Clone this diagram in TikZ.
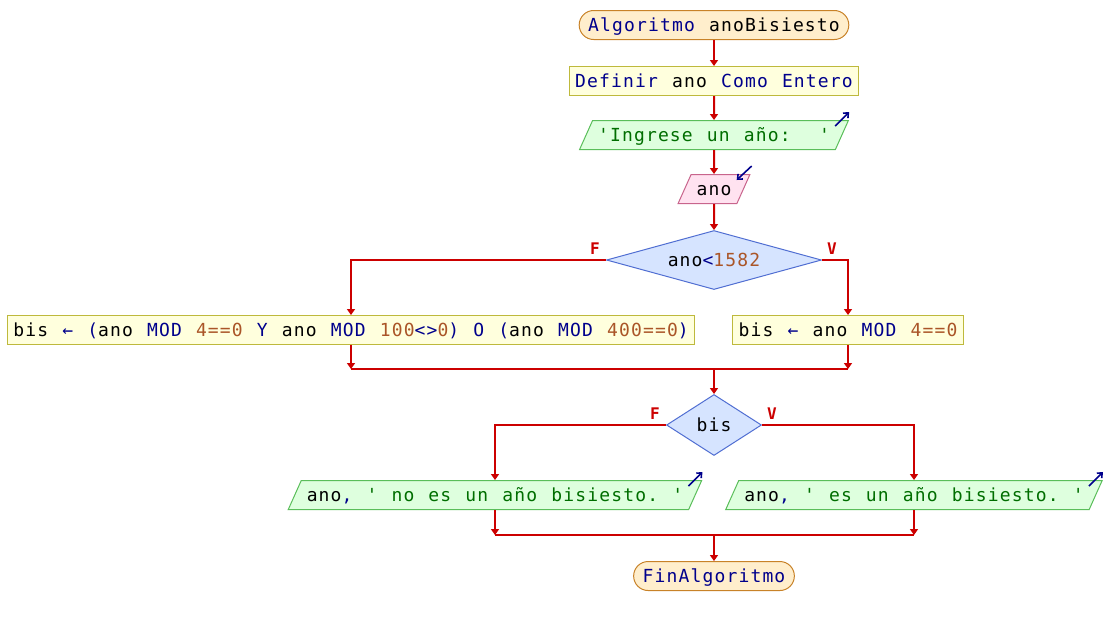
\documentclass[tikz,border=0pt]{standalone}
\usepackage{fontspec}
\setmonofont{DejaVu Sans Mono}[LetterSpace=6.4,WordSpace=1.18]
\usetikzlibrary{shapes.geometric,positioning,arrows.meta}

\definecolor{flowred}{RGB}{204,0,0}
\definecolor{kwblue}{RGB}{0,0,140}
\definecolor{numbrown}{RGB}{170,85,40}
\definecolor{strgreen}{RGB}{0,110,0}
\definecolor{termfill}{RGB}{255,238,204}
\definecolor{termdraw}{RGB}{200,130,40}
\definecolor{procfill}{RGB}{255,255,221}
\definecolor{procdraw}{RGB}{190,185,60}
\definecolor{outfill}{RGB}{222,255,222}
\definecolor{outdraw}{RGB}{90,190,90}
\definecolor{infill}{RGB}{255,226,240}
\definecolor{indraw}{RGB}{200,100,140}
\definecolor{decfill}{RGB}{214,228,255}
\definecolor{decdraw}{RGB}{80,110,210}

\newcommand{\pkw}[1]{\textcolor{kwblue}{#1}}
\newcommand{\pnum}[1]{\textcolor{numbrown}{#1}}
\newcommand{\pstr}[1]{\textcolor{strgreen}{#1}}

\begin{document}
\begin{tikzpicture}[x=1pt,y=1pt,node distance=24pt,
  font=\ttfamily\fontsize{18}{20}\selectfont,
  base/.style={inner ysep=7.25pt,text height=14pt,text depth=0.5pt,line width=1pt},
  terminal/.style={base,rectangle,rounded corners=14.5pt,fill=termfill,draw=termdraw,inner xsep=9pt},
  proc/.style={base,rectangle,fill=procfill,draw=procdraw,inner xsep=6pt},
  outbox/.style={base,trapezium,trapezium left angle=65.85,trapezium right angle=114.15,
    fill=outfill,draw=outdraw,inner xsep=5.5pt},
  inbox/.style={outbox,fill=infill,draw=indraw},
  decision/.style={diamond,fill=decfill,draw=decdraw,line width=1pt,inner sep=0pt},
  flow/.style={draw=flowred,line width=2pt,-{Triangle[width=8pt,length=6pt]}},
  flowline/.style={draw=flowred,line width=2pt},
  branch/.style={text=flowred,font=\ttfamily\bfseries\fontsize{16}{16}\selectfont,inner sep=0pt},
  iomark/.style={draw=kwblue,line width=1.6pt,-{Straight Barb[length=4pt,width=7pt]}}]

  \useasboundingbox (0,0) rectangle (1104,-625);

  % main column
  \node[terminal] (start) at (714,-25) {\pkw{Algoritmo} anoBisiesto};
  \node[proc, below=26pt of start] (defn) {\pkw{Definir} ano \pkw{Como Entero}};
  \node[outbox, below=of defn] (ask) {\pstr{'Ingrese un año:\ \ '}};
  \node[inbox, below=of ask] (readano) {ano};
  \node[decision, below=26pt of readano, aspect=3.64, minimum width=215pt, minimum height=59pt] (cmp)
    {ano\pkw{<}\pnum{1582}};

  % both rules
  \node[proc, below=25pt of cmp, xshift=-363pt] (oldrule)
    {bis \pkw{←} \pkw{(}ano \pkw{MOD} \pnum{4==0} \pkw{Y} ano \pkw{MOD} \pnum{100}\pkw{<>}\pnum{0}\pkw{)} \pkw{O} \pkw{(}ano \pkw{MOD} \pnum{400==0}\pkw{)}};
  \node[proc, below=25pt of cmp, xshift=134pt] (gregrule)
    {bis \pkw{←} ano \pkw{MOD} \pnum{4==0}};

  \coordinate[below=of oldrule.south] (joinL);
  \coordinate (joinR) at (gregrule.south |- joinL);
  \coordinate (join1) at (cmp.south |- joinL);

  \node[decision, below=25pt of join1, aspect=1.58, minimum width=95pt, minimum height=61pt] (isbis) {bis};

  \node[outbox, below=of isbis, xshift=-219pt] (noleap)
    {ano\pkw{,} \pstr{' no es un año bisiesto. '}};
  \node[outbox, below=of isbis, xshift=200pt] (leap)
    {ano\pkw{,} \pstr{' es un año bisiesto. '}};

  \coordinate[below=25pt of noleap.south] (joinL2);
  \coordinate (joinR2) at (leap.south |- joinL2);
  \coordinate (join2) at (isbis.south |- joinL2);

  \node[terminal, below=26pt of join2] (stop) {\pkw{FinAlgoritmo}};

  % branch labels
  \node[branch] (cmpF) at ([shift={(-11pt,11pt)}]cmp.west) {F};
  \node[branch] (cmpV) at ([shift={(10pt,11pt)}]cmp.east) {V};
  \node[branch] (isbisF) at ([shift={(-11pt,11pt)}]isbis.west) {F};
  \node[branch] (isbisV) at ([shift={(10pt,11pt)}]isbis.east) {V};

  % connectors
  \draw[flow] (start) -- (defn);
  \draw[flow] (defn) -- (ask);
  \draw[flow] (ask) -- (readano);
  \draw[flow] (readano) -- (cmp);
  \draw[flow] (cmp.west) -| (oldrule.north);
  \draw[flow] (cmp.east) -| (gregrule.north);
  \draw[flow] (oldrule.south) -- (joinL);
  \draw[flow] (gregrule.south) -- (joinR);
  \draw[flowline] (joinL) -- (joinR);
  \draw[flow] (join1) -- (isbis);
  \draw[flow] (isbis.west) -| (noleap.north);
  \draw[flow] (isbis.east) -| (leap.north);
  \draw[flow] (noleap.south) -- (joinL2);
  \draw[flow] (leap.south) -- (joinR2);
  \draw[flowline] (joinL2) -- (joinR2);
  \draw[flow] (join2) -- (stop);

  % in/out marks
  \draw[iomark] ([shift={(-14pt,-6pt)}]ask.top right corner) -- ([shift={(0pt,8pt)}]ask.top right corner);
  \draw[iomark] ([shift={(1pt,8pt)}]readano.top right corner) -- ([shift={(-14pt,-6pt)}]readano.top right corner);
  \draw[iomark] ([shift={(-14pt,-6pt)}]noleap.top right corner) -- ([shift={(0pt,8pt)}]noleap.top right corner);
  \draw[iomark] ([shift={(-14pt,-6pt)}]leap.top right corner) -- ([shift={(0pt,8pt)}]leap.top right corner);
\end{tikzpicture}
\end{document}
